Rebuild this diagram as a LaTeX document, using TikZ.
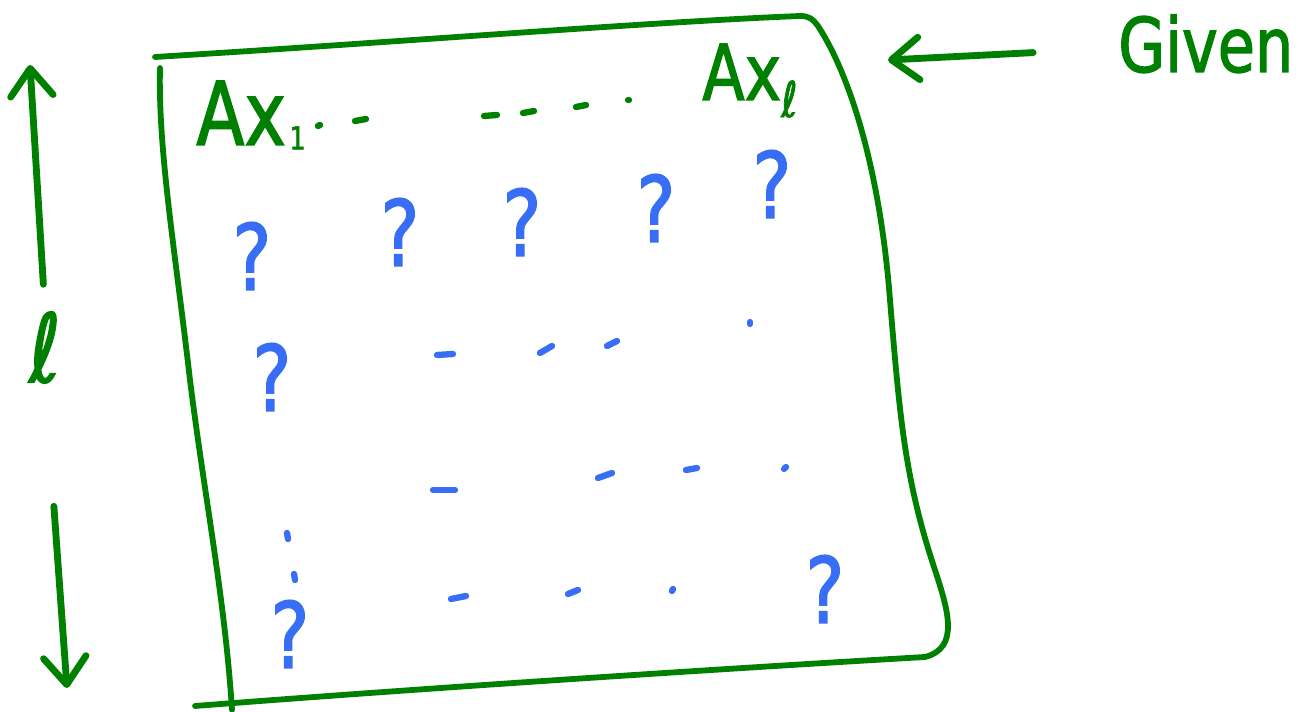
\documentclass[tikz,border=0pt]{standalone}
\usepackage{fontspec}
\setmainfont{DejaVu Sans}
\newfontfamily\handfont[FakeStretch=0.8, FakeBold=1.6]{DejaVu Sans}
\usetikzlibrary{arrows.meta}
\definecolor{inkgreen}{RGB}{0,128,0}
\definecolor{inkblue}{RGB}{55,110,245}

\begin{document}
\begin{tikzpicture}[
    x=0.02cm, y=-0.02cm,
    >={Straight Barb[length=0.55cm, width=0.85cm, round]},
    greenink/.style={draw=inkgreen, line width=3.3pt, line cap=round, line join=round},
    arrowink/.style={greenink, line width=3.9pt, ->},
    handtext/.style={text=inkgreen, inner sep=0pt, font=\handfont\fontsize{50}{60}\selectfont},
    qmark/.style={text=inkblue, inner sep=0pt, anchor=base, font=\handfont\fontsize{52}{60}\selectfont},
    blip/.style={draw=inkblue, line width=3.6pt, line cap=round},
    gblip/.style={draw=inkgreen, line width=3.6pt, line cap=round},
]
\useasboundingbox (0,0) rectangle (1299,712);

\draw[greenink] (155,57) .. controls (400,42) and (650,22) .. (800,16)
    .. controls (808,16) and (812,18) .. (818,26)
    .. controls (850,75) and (880,170) .. (890,300)
    .. controls (900,420) and (905,480) .. (935,570)
    .. controls (948,610) and (960,648) .. (925,657)
    .. controls (700,670) and (400,690) .. (195,706);
\draw[greenink] (160,68) .. controls (158,150) and (175,250) .. (190,380)
    .. controls (205,500) and (225,600) .. (232,710);

\node[handtext, anchor=base west] (axone) at (196,145) {Ax\hspace{2pt}\raisebox{-0.05em}{\fontsize{18}{20}\selectfont 1}};
\node[handtext, anchor=base west, font=\handfont\fontsize{44}{50}\selectfont] (axell) at (702,100) {Ax\raisebox{-0.22em}{\fontsize{28}{30}\selectfont ℓ}};
\node[handtext, anchor=base west, font=\handfont\fontsize{43}{50}\selectfont] (given) at (1118,72) {Given};
\node[handtext, anchor=base, font=\handfont\fontsize{54}{60}\selectfont] (ell) at (45,382) {ℓ};

\coordinate (givtip) at (888,60);
\coordinate (uptip) at (30,65);
\coordinate (downtip) at (67,688);
\draw[arrowink, shorten <=1.7cm] (given) -- (givtip);
\draw[arrowink, shorten <=0.54cm] (ell.north) -- (uptip);
\draw[arrowink, shorten <=2.46cm] (ell.south) -- (downtip);

\draw[gblip] (318,126) -- (320,125);
\draw[gblip] (355,121) -- (366,119);
\draw[gblip] (484,116) -- (497,115);
\draw[gblip] (523,113) -- (534,111);
\draw[gblip] (576,107) -- (586,105);
\draw[gblip] (628,100) -- (629,100);

\node[qmark] (q1) at (252,290) {?};
\node[qmark] (q2) at (400,266) {?};
\node[qmark] (q3) at (522,256) {?};
\node[qmark] (q4) at (656,242) {?};
\node[qmark] (q5) at (772,218) {?};
\node[qmark] (q6) at (272,411) {?};
\node[qmark] (q7) at (825,623) {?};
\node[qmark] (q8) at (290,668) {?};

\draw[blip] (437,355) -- (453,354);
\draw[blip] (540,353) -- (552,346);
\draw[blip] (607,346) -- (617,341);
\draw[blip] (750,322) -- (750,324);
\draw[blip] (433,490) -- (455,490);
\draw[blip] (598,478) -- (612,473);
\draw[blip] (686,470) -- (697,468);
\draw[blip] (784,469) -- (786,467);
\draw[blip] (451,599) -- (466,596);
\draw[blip] (568,594) -- (578,590);
\draw[blip] (672,591) -- (673,589);
\draw[blip] (287,533) -- (288,539);
\draw[blip] (294,574) -- (295,580);
\end{tikzpicture}
\end{document}
